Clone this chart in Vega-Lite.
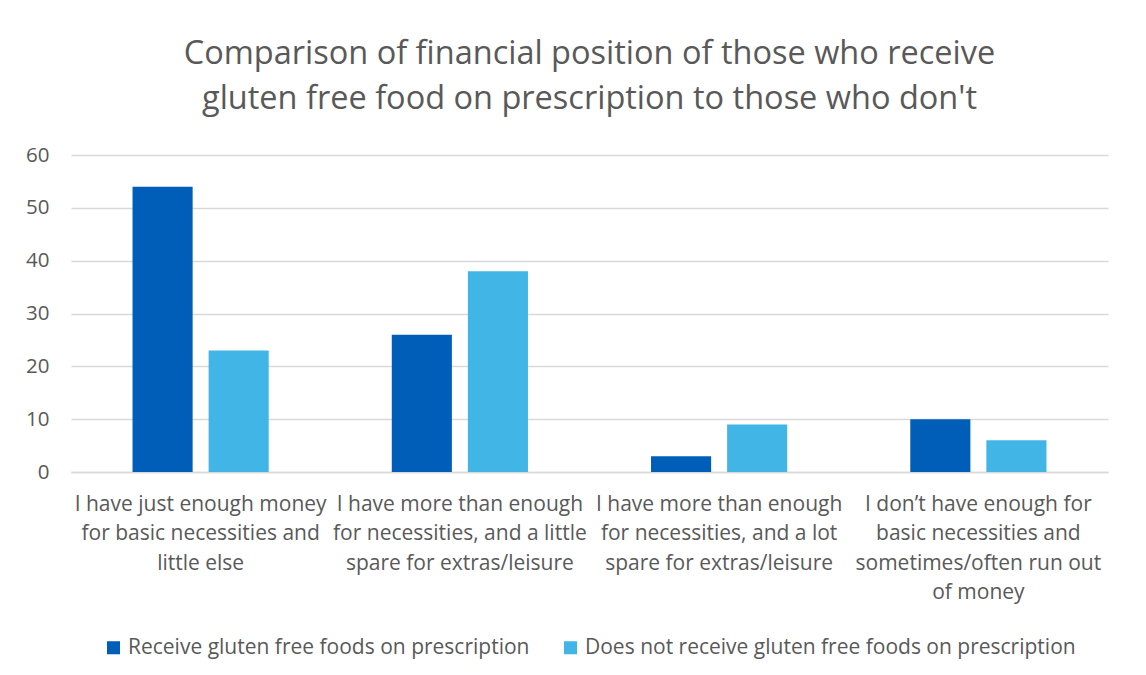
{
  "$schema": "https://vega.github.io/schema/vega-lite/v6.json",
  "width": 1037,
  "height": 317,
  "autosize": {"type": "none"},
  "padding": {"left": 71, "top": 155, "right": 38, "bottom": 203},
  "background": "white",
  "title": {
    "text": ["Comparison of financial position of those who receive", "gluten free food on prescription to those who don't"],
    "fontSize": 32.5,
    "font": "Open Sans",
    "fontWeight": "normal",
    "color": "#595959",
    "anchor": "middle",
    "lineHeight": 45,
    "offset": 30
  },
  "data": {
    "values": [
      {"category": "I have just enough money|for basic necessities and|little else", "group": "Receive gluten free foods on prescription", "value": 54},
      {"category": "I have just enough money|for basic necessities and|little else", "group": "Does not receive gluten free foods on prescription", "value": 23},
      {"category": "I have more than enough|for necessities, and a little|spare for extras/leisure", "group": "Receive gluten free foods on prescription", "value": 26},
      {"category": "I have more than enough|for necessities, and a little|spare for extras/leisure", "group": "Does not receive gluten free foods on prescription", "value": 38},
      {"category": "I have more than enough|for necessities, and a lot|spare for extras/leisure", "group": "Receive gluten free foods on prescription", "value": 3},
      {"category": "I have more than enough|for necessities, and a lot|spare for extras/leisure", "group": "Does not receive gluten free foods on prescription", "value": 9},
      {"category": "I don’t have enough for|basic necessities and|sometimes/often run out|of money", "group": "Receive gluten free foods on prescription", "value": 10},
      {"category": "I don’t have enough for|basic necessities and|sometimes/often run out|of money", "group": "Does not receive gluten free foods on prescription", "value": 6}
    ]
  },
  "mark": {"type": "bar"},
  "encoding": {
    "x": {
      "field": "category",
      "type": "nominal",
      "sort": null,
      "title": null,
      "scale": {"paddingInner": 0.413, "paddingOuter": 0.2065},
      "axis": {
        "labelExpr": "split(datum.value, '|')",
        "labelAngle": 0,
        "labelFontSize": 21,
        "labelFont": "Open Sans",
        "labelColor": "#595959",
        "labelLineHeight": 29.5,
        "labelPadding": 21,
        "labelLimit": 400,
        "ticks": false,
        "domain": true,
        "domainColor": "#d9d9d9",
        "domainWidth": 1.5
      }
    },
    "xOffset": {
      "field": "group",
      "type": "nominal",
      "sort": ["Receive gluten free foods on prescription", "Does not receive gluten free foods on prescription"],
      "scale": {"paddingInner": 0.21, "paddingOuter": 0.105}
    },
    "y": {
      "field": "value",
      "type": "quantitative",
      "title": null,
      "scale": {"domain": [0, 60], "nice": false},
      "axis": {
        "values": [0, 10, 20, 30, 40, 50, 60],
        "labelFontSize": 20.5,
        "labelFont": "Open Sans",
        "labelColor": "#595959",
        "labelPadding": 22,
        "ticks": false,
        "domain": false,
        "grid": true,
        "gridColor": "#d9d9d9",
        "gridWidth": 1.5
      }
    },
    "color": {
      "field": "group",
      "type": "nominal",
      "sort": ["Receive gluten free foods on prescription", "Does not receive gluten free foods on prescription"],
      "scale": {"range": ["#005EB8", "#41B6E6"]},
      "legend": {
        "title": null,
        "orient": "bottom",
        "direction": "horizontal",
        "symbolType": "square",
        "symbolSize": 170,
        "symbolStrokeWidth": 0,
        "labelFontSize": 21,
        "labelFont": "Open Sans",
        "labelColor": "#595959",
        "labelLimit": 700,
        "columnPadding": 30,
        "offset": 34
      }
    }
  },
  "config": {
    "view": {"stroke": null},
    "legend": {"layout": {"bottom": {"anchor": "middle"}}}
  }
}
